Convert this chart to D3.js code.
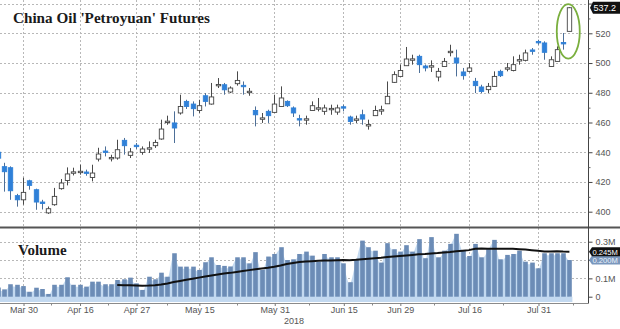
<!DOCTYPE html>
<html>
<head>
<meta charset="utf-8">
<script src="https://cdn.jsdelivr.net/npm/d3@7"></script>
<style>
  body { margin: 0; background: #fff; }
  svg { display: block; }
</style>
</head>
<body>
<svg id="chart" width="620" height="329"></svg>
<script>
// Trading sessions of the INE crude oil contract (Shanghai), 2018
const dates = [
  "2018-03-26","2018-03-27","2018-03-28","2018-03-29","2018-03-30",
  "2018-04-02","2018-04-03","2018-04-04","2018-04-09","2018-04-10","2018-04-11","2018-04-12","2018-04-13",
  "2018-04-16","2018-04-17","2018-04-18","2018-04-19","2018-04-20","2018-04-23","2018-04-24","2018-04-25","2018-04-26","2018-04-27",
  "2018-05-02","2018-05-03","2018-05-04","2018-05-07","2018-05-08","2018-05-09","2018-05-10","2018-05-11","2018-05-14","2018-05-15",
  "2018-05-16","2018-05-17","2018-05-18","2018-05-21","2018-05-22","2018-05-23","2018-05-24","2018-05-25","2018-05-28","2018-05-29","2018-05-30","2018-05-31",
  "2018-06-01","2018-06-04","2018-06-05","2018-06-06","2018-06-07","2018-06-08","2018-06-11","2018-06-12","2018-06-13","2018-06-14","2018-06-15",
  "2018-06-19","2018-06-20","2018-06-21","2018-06-22","2018-06-25","2018-06-26","2018-06-27","2018-06-28","2018-06-29",
  "2018-07-02","2018-07-03","2018-07-04","2018-07-05","2018-07-06","2018-07-09","2018-07-10","2018-07-11","2018-07-12","2018-07-13","2018-07-16",
  "2018-07-17","2018-07-18","2018-07-19","2018-07-20","2018-07-23","2018-07-24","2018-07-25","2018-07-26","2018-07-27","2018-07-30","2018-07-31",
  "2018-08-01","2018-08-02","2018-08-03","2018-08-06","2018-08-07"
];

// Daily OHLC, yuan per barrel
const open = [
  440,430.3,429.6,410.8,408, 420.8,414.8,406.5,399.2,404.7,415.5,421,426.5,
  427,426.7,423,435.4,440.8,436.2,436.1,448,437.9,444.7,
  439.9,442.6,444.4,448.9,460.6,459.7,466.4,474.2,472.4,468.1,
  478,472.4,485.3,485.4,480.5,486.1,485,480.8,468.1,463,467.5,466.8,
  470.8,474.2,469.8,462.6,462.3,468.1,469.8,467.5,469.3,467,470.6,
  463.7,462.3,465.2,458.5,464.6,468.4,472.6,487,491,
  498.2,502.6,504.5,498,497.9,490.6,497.7,507.6,503.4,494,494.4,
  487.7,483.9,482.1,484.3,494.4,496.6,495,502.1,501.8,508.8,514.5,
  513.5,497.7,501.1,513.8,521.3
];
const high = [
  442,432.9,430.5,412,422.9, 421.5,415.5,408,403.5,416,422,429.8,429.6,
  431.6,428.3,431.6,443,443.9,438.3,448.4,449.6,442.8,446.2,
  443.9,447.3,448.4,461.9,464.6,467.5,478.7,475.3,474.2,475.3,
  479.8,486.6,489.9,486.6,484.3,494.4,487.6,483.2,470.8,466.4,468.6,478.7,
  484.3,474.9,470.8,465.2,464.6,474.2,476.5,472,472,472,472,
  464.6,464.6,468.6,461.9,471.3,471.3,487.6,494.4,498.9,
  510.8,505.6,505.6,499,501.8,496.7,503.4,512.3,509,496.7,500,
  490,485.4,486.6,494.4,495.5,500,504.5,505.6,509,510.1,515.7,
  514.6,504.5,511.2,520.2,537.6
];
const low = [
  432,413.5,408,403.4,404.7, 414.8,401.3,401.5,398.5,404,414.8,417.7,424.4,
  424.9,424.2,420.4,433.8,437.2,433.8,435,438.4,436.1,442.2,
  438.3,439.5,442.9,448.4,458.5,446.2,465.3,469.1,464.1,466.4,
  470.8,472,483.2,478.7,479.8,484.8,478.7,478,457.4,459.7,459.7,466.4,
  470.8,470.4,463.7,457.4,458.5,468.1,467.5,465.2,465.2,465.2,467.5,
  458.5,459.7,458.5,455.2,464.6,465.2,472.6,486.6,491,
  498.2,498.9,493.3,494.4,494,487.7,497.7,504.5,491,488.8,493.7,
  479.8,479.8,479.8,483.9,490.6,494.4,494.4,498.9,501.1,505.6,512.3,
  502.2,497.7,501.1,509,521.3
];
const close = [
  436,426.9,414.1,408,413, 417.7,406.5,405.5,402,410.3,419.3,425.4,426.8,
  427.2,426.2,426,438.8,440.4,436.5,441.7,444.4,440.2,444.2,
  442.2,443,446.6,455.6,460.9,456.3,470.8,470.8,469.3,471.3,
  474.2,477.2,485.6,482,483.2,488.3,484.5,481,465.2,463.1,464.6,472.4,
  476.5,471.3,466.4,462.3,462.5,471.3,469.9,469.8,469.5,469.8,470.2,
  460.7,462.4,462.3,458.6,468.1,468.6,477.6,492.2,495,
  502.7,502.8,498.9,496.7,498.2,494.4,501.1,507.9,500,491.5,496.7,
  484.8,480.9,484.3,491,491.5,496.8,498.9,502.3,506.8,508.3,514.1,
  507.2,502.2,509,513.2,537.2
];

// Daily volume, million contracts
const volume = [
  0.050,0.040,0.068,0.065,0.058, 0.027,0.049,0.042,0.015,0.065,0.065,0.106,0.065,
  0.065,0.055,0.082,0.082,0.068,0.068,0.091,0.095,0.104,0.073,
  0.037,0.109,0.095,0.131,0.109,0.237,0.164,0.164,0.164,0.146,
  0.188,0.215,0.173,0.168,0.165,0.215,0.215,0.182,0.243,0.146,0.219,0.233,
  0.270,0.200,0.204,0.233,0.246,0.224,0.191,0.233,0.215,0.215,0.182,
  0.079,0.200,0.306,0.270,0.251,0.186,0.292,0.259,0.246,
  0.281,0.246,0.314,0.210,0.325,0.215,0.251,0.288,0.343,0.251,0.222,
  0.288,0.215,0.259,0.310,0.204,0.228,0.233,0.251,0.191,0.186,0.155,
  0.237,0.237,0.237,0.237,0.200
];

// 20-day average volume (starts once 20 sessions exist)
const volumeAvg = [
  null,null,null,null,null,null,null,null,null,null,null,null,null,null,null,null,null,null,null,
  0.064,0.063,0.062,0.061,
  0.060,0.061,0.063,0.067,0.072,0.080,0.086,0.092,0.098,0.104,
  0.110,0.116,0.121,0.126,0.130,0.135,0.140,0.145,0.150,0.154,0.158,0.163,
  0.170,0.178,0.184,0.189,0.192,0.194,0.196,0.197,0.198,0.199,0.200,
  0.199,0.201,0.204,0.207,0.210,0.212,0.216,0.219,0.222,
  0.225,0.228,0.231,0.233,0.236,0.238,0.241,0.244,0.248,0.251,0.254,
  0.262,0.263,0.262,0.261,0.262,0.262,0.261,0.259,0.257,0.254,0.250,
  0.247,0.247,0.248,0.246,0.245
];

const dateTicks = ["2018-03-30","2018-04-16","2018-04-27","2018-05-15","2018-05-31",
                   "2018-06-15","2018-06-29","2018-07-16","2018-07-31"];
const dateTickLabels = ["Mar 30","Apr 16","Apr 27","May 15","May 31","Jun 15","Jun 29","Jul 16","Jul 31"];
const priceTicks = [400,420,440,460,480,500,520,540];
const priceMinorTicks = [410,430,450,470,490,510,530];
const volumeTicks = [0,0.1,0.2,0.3];
const volumeTickLabels = ["0","0.1M","0.2M","0.3M"];

const svg = d3.select("#chart");
const plotRight = 588;
const priceBottom = 227;
const volTop = 229, volBottom = 303;

const x = d3.scalePoint().domain(dates).range([-2.1, 569.4]);
const y = d3.scaleLinear().domain([400, 520]).range([211.7, 33.3]);
const yv = d3.scaleLinear().domain([0, 0.3]).range([296.7, 241.7]);

const rows = dates.map((d, i) => ({
  date: d, open: open[i], high: high[i], low: low[i], close: close[i],
  vol: volume[i], avg: volumeAvg[i]
}));
const last = rows[rows.length - 1], prev = rows[rows.length - 2];

const defs = svg.append("defs");
defs.append("clipPath").attr("id", "clipPrice")
  .append("rect").attr("x", 0).attr("y", 0).attr("width", plotRight).attr("height", priceBottom);
defs.append("clipPath").attr("id", "clipVol")
  .append("rect").attr("x", 0).attr("y", volTop).attr("width", plotRight).attr("height", volBottom - volTop);

// ---- grid ----
const grid = svg.append("g").attr("stroke", "#b8b8b8").attr("stroke-dasharray", "2,2").attr("stroke-width", 1);
grid.selectAll("line.hp").data(priceTicks).join("line")
  .attr("x1", 0).attr("x2", plotRight)
  .attr("y1", d => Math.round(y(d)) + 0.5).attr("y2", d => Math.round(y(d)) + 0.5);
grid.selectAll("line.hv").data(volumeTicks.slice(1)).join("line")
  .attr("class", "hv")
  .attr("x1", 0).attr("x2", plotRight)
  .attr("y1", d => Math.round(yv(d)) + 0.5).attr("y2", d => Math.round(yv(d)) + 0.5);
grid.selectAll("line.vx").data(dateTicks).join("line")
  .attr("class", "vx")
  .attr("x1", d => Math.round(x(d)) + 0.5).attr("x2", d => Math.round(x(d)) + 0.5)
  .attr("y1", 0).attr("y2", volBottom);

// ---- candles ----
const candles = svg.append("g").attr("clip-path", "url(#clipPrice)");
const bodyW = 4.4;
const c = candles.selectAll("g.candle").data(rows).join("g").attr("class", "candle");
c.append("line")
  .attr("x1", d => Math.round(x(d.date)) + 0.5).attr("x2", d => Math.round(x(d.date)) + 0.5)
  .attr("y1", d => y(d.high)).attr("y2", d => y(d.low))
  .attr("stroke", d => d.close < d.open ? "#4d6f98" : "#4a4a4a")
  .attr("stroke-width", 1);
c.append("rect")
  .attr("x", d => Math.round(x(d.date)) + 0.5 - bodyW / 2)
  .attr("width", bodyW)
  .attr("y", d => y(Math.max(d.open, d.close)))
  .attr("height", d => Math.max(1.4, Math.abs(y(d.open) - y(d.close))))
  .attr("fill", d => d.close < d.open ? "#2f80d8" : "#ffffff")
  .attr("stroke", d => d.close < d.open ? "#2f80d8" : "#444")
  .attr("stroke-width", 0.9);

// highlight ring around the final breakout sessions
const ringTop = y(last.high), ringBottom = y(prev.low);
svg.append("ellipse")
  .attr("cx", (x(prev.date) + x(last.date)) / 2 + 2)
  .attr("cy", (ringTop + ringBottom) / 2 + 3)
  .attr("rx", 11.5)
  .attr("ry", (ringBottom - ringTop) / 2 + 6)
  .attr("fill", "none").attr("stroke", "#7aaf3e").attr("stroke-width", 1.8);

// ---- volume panel ----
const vol = svg.append("g").attr("clip-path", "url(#clipVol)");
vol.append("path").datum(rows)
  .attr("fill", "#c3d9f0")
  .attr("d", d3.area().x(d => x(d.date)).y0(volBottom - 1).y1(d => yv(d.vol) + 2).curve(d3.curveMonotoneX));
vol.append("rect").attr("x", 0).attr("width", x(last.date) + 3)
  .attr("y", yv(0)).attr("height", volBottom - 1 - yv(0)).attr("fill", "#c3d9f0");
vol.selectAll("rect.bar").data(rows).join("rect").attr("class", "bar")
  .attr("x", d => Math.round(x(d.date)) + 0.5 - 2.3)
  .attr("width", 4.6)
  .attr("y", d => yv(d.vol))
  .attr("height", d => yv(0) - yv(d.vol))
  .attr("fill", "#6c8cb6");
vol.append("path").datum(rows.filter(d => d.avg != null))
  .attr("fill", "none").attr("stroke", "#111").attr("stroke-width", 2)
  .attr("d", d3.line().x(d => x(d.date)).y(d => yv(d.avg)));

// ---- frame ----
svg.append("line").attr("x1", 0).attr("x2", 620).attr("y1", 227.5).attr("y2", 227.5)
  .attr("stroke", "#555").attr("stroke-width", 2);
svg.append("line").attr("x1", plotRight + 0.5).attr("x2", plotRight + 0.5).attr("y1", 0).attr("y2", volBottom + 0.5)
  .attr("stroke", "#444").attr("stroke-width", 1);
svg.append("line").attr("x1", 0).attr("x2", plotRight + 0.5).attr("y1", volBottom + 0.5).attr("y2", volBottom + 0.5)
  .attr("stroke", "#8a8a8a").attr("stroke-width", 1);

// ---- right price axis ----
const axisFont = "'Liberation Sans', Arial, sans-serif";
// the top tick's label sits under the last-price tag, so only its mark is drawn
const pAxis = svg.append("g").attr("transform", `translate(${plotRight + 0.5},0)`)
  .call(d3.axisRight(y).tickValues(priceTicks).tickSize(4).tickPadding(3)
    .tickFormat(d => d === 540 ? "" : d3.format("d")(d)));
pAxis.select(".domain").remove();
pAxis.selectAll(".tick line").attr("stroke", "#444");
pAxis.selectAll(".tick text").attr("fill", "#555").style("font", `9px ${axisFont}`);
svg.append("g").attr("transform", `translate(${plotRight + 0.5},0)`)
  .call(d3.axisRight(y).tickValues(priceMinorTicks).tickSize(2).tickFormat(""))
  .call(g => g.select(".domain").remove())
  .selectAll(".tick line").attr("stroke", "#666");

// last price tag
const tagY = y(last.close);
svg.append("path")
  .attr("d", `M${plotRight + 2},${tagY} L${plotRight + 5},${tagY - 6} L620,${tagY - 6} L620,${tagY + 6} L${plotRight + 5},${tagY + 6} Z`)
  .attr("fill", "#111");
svg.append("text").attr("x", plotRight + 5.5).attr("y", tagY + 3.3)
  .attr("fill", "#fff").style("font", `9px ${axisFont}`).text(d3.format(".1f")(last.close));

// ---- right volume axis (0.2M label is covered by the value tags) ----
const vAxis = svg.append("g").attr("transform", `translate(${plotRight + 0.5},0)`)
  .call(d3.axisRight(yv).tickValues(volumeTicks).tickSize(4).tickPadding(3)
    .tickFormat((d, i) => d === 0.2 ? "" : volumeTickLabels[i]));
vAxis.select(".domain").remove();
vAxis.selectAll(".tick line").attr("stroke", "#444");
vAxis.selectAll(".tick text").attr("fill", "#555").style("font", `9px ${axisFont}`);

// value tags for last volume and its average
function tag(val, fill, text, txtFill) {
  const ty = yv(val);
  svg.append("path")
    .attr("d", `M${plotRight + 1},${ty} L${plotRight + 4},${ty - 4.5} L620,${ty - 4.5} L620,${ty + 4.5} L${plotRight + 4},${ty + 4.5} Z`)
    .attr("fill", fill);
  svg.append("text").attr("x", plotRight + 4.5).attr("y", ty + 2.8)
    .attr("fill", txtFill).style("font", `7.6px ${axisFont}`).text(text);
}
tag(last.vol, "#7a97bd", d3.format(".3f")(last.vol) + "M", "#eef4fb");
tag(last.avg, "#111", d3.format(".3f")(last.avg) + "M", "#fff");

// ---- bottom date axis ----
const xAxis = svg.append("g").attr("transform", `translate(0.5,${volBottom + 0.5})`)
  .call(d3.axisBottom(x).tickValues(dateTicks).tickSize(2.5).tickPadding(0.5)
    .tickFormat((d, i) => dateTickLabels[i]));
xAxis.select(".domain").remove();
xAxis.selectAll(".tick line").attr("stroke", "#777");
xAxis.selectAll(".tick text").attr("fill", "#555").style("font", `9px ${axisFont}`);

// minor date ticks halfway between labelled dates
const tickPx = dateTicks.map(d => x(d));
const minorPx = tickPx.slice(1).map((p, i) => (p + tickPx[i]) / 2);
minorPx.push(tickPx[tickPx.length - 1] + (tickPx[tickPx.length - 1] - tickPx[tickPx.length - 2]) / 2);
svg.append("g").selectAll("line").data(minorPx).join("line")
  .attr("x1", d => Math.round(d) + 0.5).attr("x2", d => Math.round(d) + 0.5)
  .attr("y1", volBottom + 0.5).attr("y2", volBottom + 2.5)
  .attr("stroke", "#888");

svg.append("text").attr("x", 294).attr("y", 324).attr("text-anchor", "middle")
  .attr("fill", "#555").style("font", `9px ${axisFont}`).text("2018");

// ---- titles ----
svg.append("text").attr("x", 13).attr("y", 23)
  .attr("fill", "#1a1a1a")
  .attr("textLength", 197).attr("lengthAdjust", "spacingAndGlyphs")
  .style("font", "bold 15px 'Liberation Serif', 'DejaVu Serif', serif")
  .text("China Oil 'Petroyuan' Futures");
svg.append("text").attr("x", 18).attr("y", 255)
  .attr("fill", "#1a1a1a")
  .style("font", "bold 15px 'Liberation Serif', 'DejaVu Serif', serif")
  .text("Volume");
</script>
</body>
</html>
